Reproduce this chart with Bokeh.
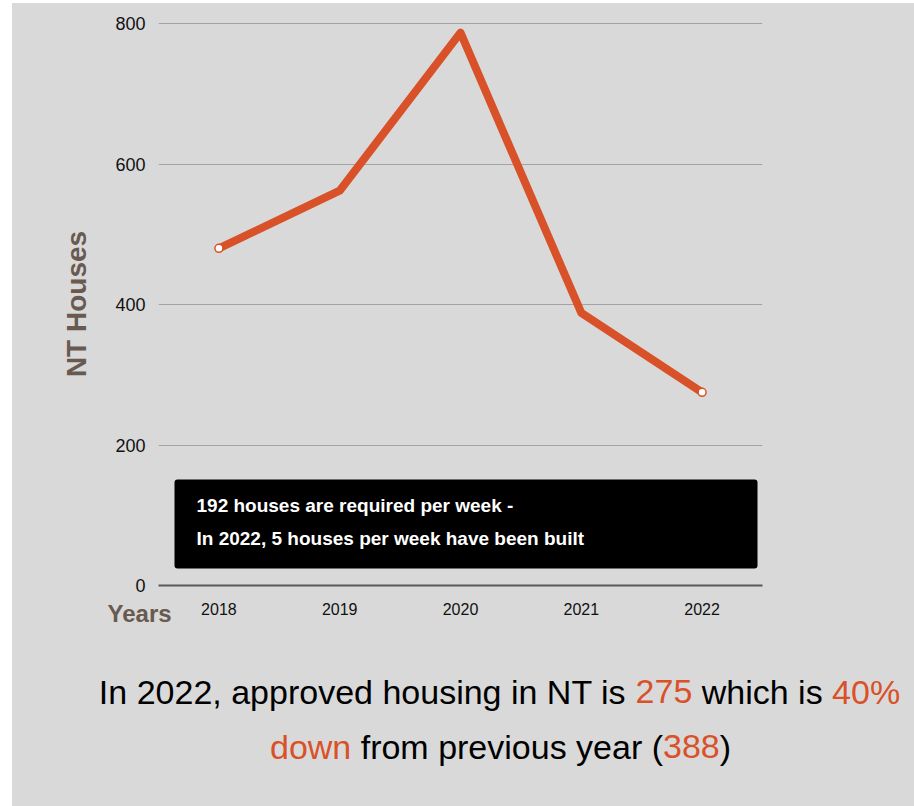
from bokeh.plotting import figure
from bokeh.layouts import column
from bokeh.models import (FactorRange, Label, BoxAnnotation, SingleIntervalTicker,
                          Title, Range1d)
from bokeh.embed import file_html
from bokeh.resources import INLINE

# ---- data ----
years = ["2018", "2019", "2020", "2021", "2022"]
houses = [480, 562, 787, 388, 275]
y_ticks_interval = 200
pct_down = 40
required_per_week = 192
built_per_week = 5

ORANGE = "#d95128"
BROWN = "#685a50"
BG = "#d9d9d9"
FONT = "Liberation Sans"

# frame geometry (figure-relative pixels)
FL, FW, FT, FH = 146, 604, 19, 563
FIG_W = 902
TOP_H = 640          # height of chart figure
BOT_H = 803 - TOP_H  # height of text figure
Y_END = 801.5        # a little headroom so the top grid line is not clipped
OX, OY = 12, 3       # page offset of the figures

p = figure(x_range=FactorRange(*years), y_range=(0, Y_END),
           frame_width=FW, frame_height=FH,
           min_border_left=FL, min_border_right=FIG_W - FL - FW,
           min_border_top=FT, min_border_bottom=TOP_H - FT - FH,
           output_backend="svg", toolbar_location=None,
           background_fill_color=None, border_fill_color=BG)
p.outline_line_color = None
p.frame_align = False

# axes
p.xaxis.axis_line_color = "#595959"
p.xaxis.axis_line_width = 2
p.xaxis.major_tick_line_color = None
p.xaxis.minor_tick_line_color = None
p.xaxis.major_label_text_font = FONT
p.xaxis.major_label_text_font_size = "16px"
p.xaxis.major_label_text_color = "#111111"
p.xaxis.major_label_standoff = 11

p.yaxis.ticker = SingleIntervalTicker(interval=y_ticks_interval)
p.yaxis.axis_line_color = None
p.yaxis.major_tick_line_color = None
p.yaxis.minor_tick_line_color = None
p.yaxis.major_label_text_font = FONT
p.yaxis.major_label_text_font_size = "18px"
p.yaxis.major_label_text_color = "#111111"
p.yaxis.major_label_standoff = 7
p.yaxis.axis_label = "NT Houses"
p.yaxis.axis_label_text_font = FONT
p.yaxis.axis_label_text_font_style = "bold"
p.yaxis.axis_label_text_font_size = "28px"
p.yaxis.axis_label_text_color = BROWN
p.yaxis.axis_label_standoff = 20

p.xgrid.grid_line_color = None
p.ygrid.grid_line_color = "#a3a3a3"
p.ygrid.grid_line_width = 1

# "Years" label in the panel below the x axis
p.add_layout(Title(text="Years", align="left", vertical_align="top",
                   offset=(107 - OX) - FL, standoff=-35,
                   text_font=FONT, text_font_style="bold",
                   text_font_size="24px", text_color=BROWN), "below")

# line
p.line(years, houses, line_color=ORANGE, line_width=8, line_join="round")
p.scatter([years[0], years[-1]], [houses[0], houses[-1]], size=8,
          fill_color="white", line_color=ORANGE, line_width=1.5)

# page pixel -> data helpers for the chart
n = len(years)
def dx(px):
    return (px - OX - FL) / FW * n
def dy(py):
    return (FT + FH - (py - OY)) / FH * Y_END

# black note box
p.add_layout(BoxAnnotation(left=dx(174), right=dx(757),
                           top=dy(479), bottom=dy(568),
                           fill_color="black", fill_alpha=1.0,
                           line_color=None, border_radius=3))
note1 = f"{required_per_week} houses are required per week -"
note2 = f"In {years[-1]}, {built_per_week} houses per week have been built"
for txt, base in [(note1, 505), (note2, 538)]:
    p.add_layout(Label(x=dx(196), y=dy(base), text=txt,
                       text_font=FONT, text_font_style="bold",
                       text_font_size="19px", text_color="white",
                       text_align="left", text_baseline="alphabetic"))

# ---- bottom text figure ----
q = figure(x_range=Range1d(0, FIG_W), y_range=Range1d(BOT_H, 0),
           frame_width=FIG_W, frame_height=BOT_H,
           min_border_left=0, min_border_right=0,
           min_border_top=0, min_border_bottom=0,
           output_backend="svg", toolbar_location=None,
           background_fill_color=None, border_fill_color=BG)
q.outline_line_color = None
q.frame_align = False
q.xaxis.visible = False
q.yaxis.visible = False
q.grid.visible = False

# Arial / Liberation Sans advance widths (per 1000 em)
W = {" ": 278, ",": 278, "%": 889, "(": 333, ")": 333, "-": 333,
     "I": 278, "N": 722, "T": 611,
     "a": 556, "c": 500, "d": 556, "e": 556, "f": 278, "g": 556, "h": 556,
     "i": 222, "m": 833, "n": 556, "o": 556, "p": 556, "r": 333, "s": 500,
     "u": 556, "v": 500, "w": 722, "y": 500}
def tw(s, size):
    return sum(W.get(c, 556) for c in s) * size / 1000.0

FS = 34
line1 = [(f"In {years[-1]}, approved housing in NT is ", "black"),
         (f"{houses[-1]}", ORANGE), (" which is ", "black"),
         (f"{pct_down}%", ORANGE)]
line2 = [("down", ORANGE), (" from previous year (", "black"),
         (f"{houses[-2]}", ORANGE), (")", "black")]

for segs, base, cx in [(line1, 691, 499), (line2, 746, 500)]:
    total = sum(tw(s, FS) for s, _ in segs)
    x = cx - total / 2 - OX
    for s, col in segs:
        lead = len(s) - len(s.lstrip(" "))
        q.add_layout(Label(x=x + tw(" " * lead, FS), y=base - OY - TOP_H,
                           text=s.strip(" "),
                           text_font=FONT, text_font_size=f"{FS}px",
                           text_color=col, text_align="left",
                           text_baseline="alphabetic"))
        x += tw(s, FS)

layout = column(p, q, spacing=0)
layout.margin = (OY, 0, 0, OX)
layout.styles = {"background-color": BG}
open("out.html", "w").write(file_html(layout, INLINE))
